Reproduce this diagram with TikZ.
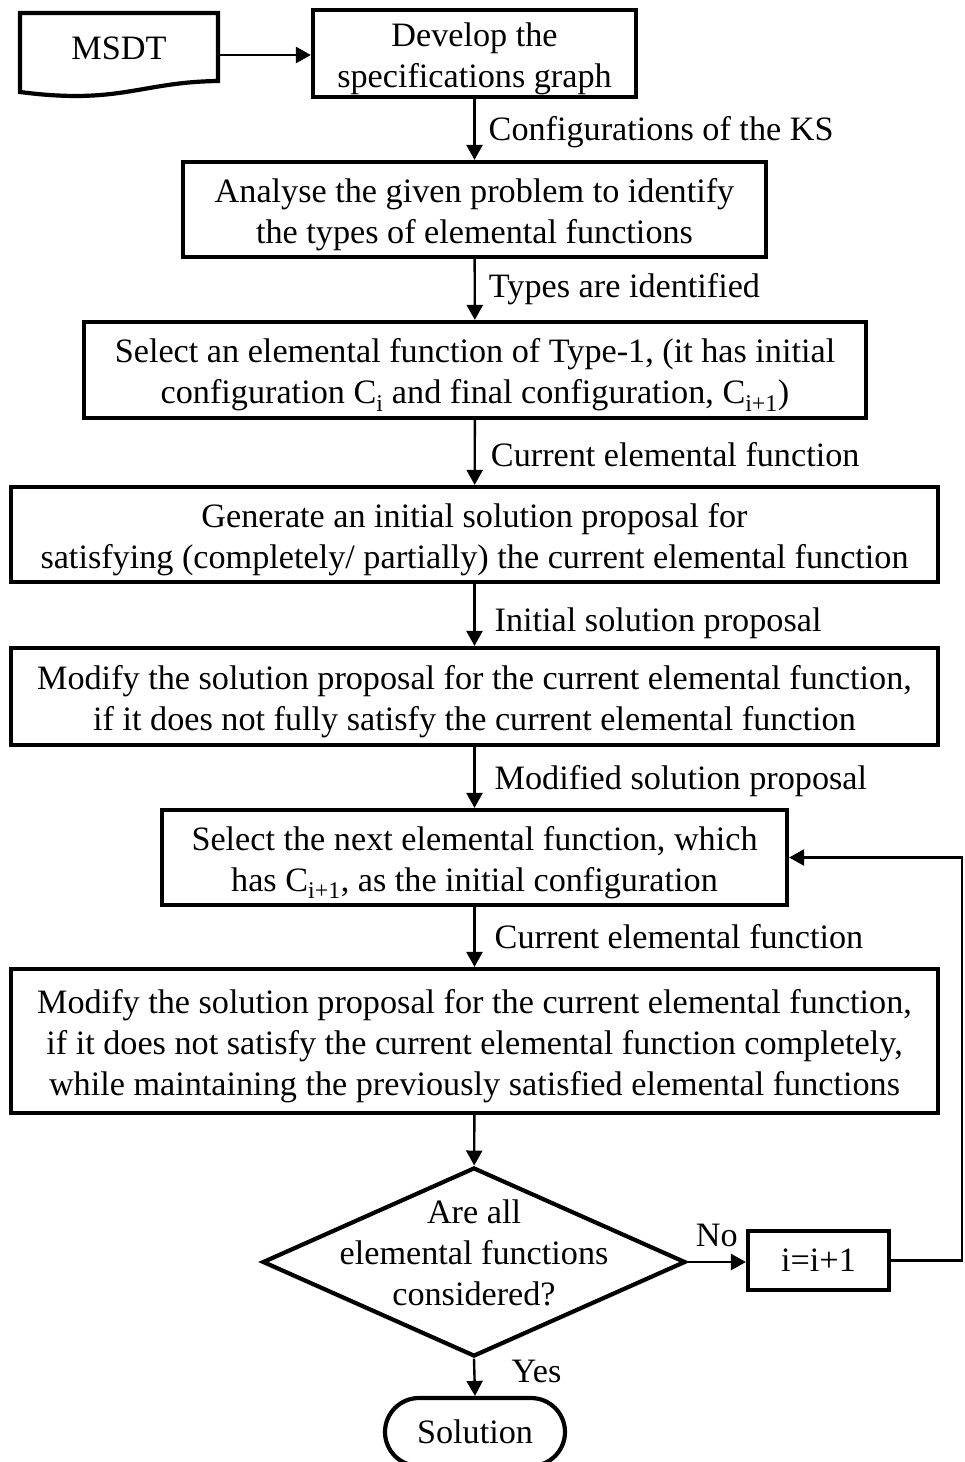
\documentclass[tikz,border=0pt]{standalone}
\usepackage{fontspec}
\setmainfont{Liberation Serif}
\usetikzlibrary{arrows.meta,shapes.geometric,shapes.misc}
\begin{document}
\begin{tikzpicture}[x=1pt,y=-1pt,
  txt/.style={font=\fontsize{34.2}{41}\selectfont, align=center},
  box/.style={draw, line width=4.2pt, rectangle, inner sep=0pt,
     label={[txt, yshift=-5pt]center:#1}},
  arr/.style={line width=2.4pt, -{Triangle[length=15pt,width=16pt]}},
  lab/.style={txt, anchor=west, inner sep=0pt, xshift=13pt}]
\useasboundingbox (0,0) rectangle (965,1462);
% MSDT document
\node[txt, minimum width=198pt, minimum height=70pt, inner sep=0pt] (m) at (119,48) {MSDT};
\draw[line width=4.2pt] (20,84) -- (20,13) -- (218,13) -- (218,81)
   .. controls (140,82) and (120,105) .. (20,92) -- cycle;
\node[box={Develop the\\specifications graph}, minimum width=323pt, minimum height=87pt] (b1) at (474.5,53.5) {};
\node[box={Analyse the given problem to identify\\the types of elemental functions}, minimum width=583pt, minimum height=95pt] (b2) at (474.5,209.5) {};
\node[box={Select an elemental function of Type-1, (it has initial\\configuration C\textsubscript{i} and final configuration, C\textsubscript{i+1})}, minimum width=782pt, minimum height=96pt] (b3) at (475,370) {};
\node[box={Generate an initial solution proposal for\\satisfying (completely/ partially) the current elemental function}, minimum width=927pt, minimum height=95pt] (b4) at (474.5,534.5) {};
\node[box={Modify the solution proposal for the current elemental function,\\if it does not fully satisfy the current elemental function}, minimum width=927pt, minimum height=97pt] (b5) at (474.5,696.5) {};
\node[box={Select the next elemental function, which\\has C\textsubscript{i+1}, as the initial configuration}, minimum width=625pt, minimum height=95pt] (b6) at (474.5,857.5) {};
\node[box={Modify the solution proposal for the current elemental function,\\if it does not satisfy the current elemental function completely,\\while maintaining the previously satisfied elemental functions}, minimum width=927pt, minimum height=144pt] (b7) at (474.5,1041) {};
\node[diamond, draw, line width=4.2pt, inner sep=0pt, minimum width=423pt, minimum height=189pt,
  label={[txt, yshift=9pt]center:Are all\\elemental functions\\considered?}] (d) at (474,1262) {};
\node[txt, draw, line width=4.2pt, rectangle, inner sep=0pt, minimum width=141pt, minimum height=59pt] (inc) at (818.5,1260.5) {i=i+1};
\node[txt, draw, line width=4.2pt, rounded rectangle, inner sep=0pt, minimum width=180pt, minimum height=68pt] (sol) at (475,1432) {Solution};
\coordinate (rt) at (962,1260.5);
% connectors
\draw[arr] (m.east |- 0,55) -- (b1.west |- 0,55);
\draw[arr] (b1) -- node[lab, yshift=-3pt] {Configurations of the KS} (b2);
\draw[arr] (b2) -- node[lab] {Types are identified} (b3);
\draw[arr] (b3) -- node[lab, xshift=2pt, yshift=-2pt] {Current elemental function} (b4);
\draw[arr] (b4) -- node[lab, xshift=6pt, yshift=-8pt] {Initial solution proposal} (b5);
\draw[arr] (b5) -- node[lab, xshift=6pt, yshift=-4pt] {Modified solution proposal} (b6);
\draw[arr] (b6) -- node[lab, xshift=6pt] {Current elemental function} (b7);
\draw[arr] (b7) -- (d);
\draw[arr] (d.east) -- node[txt, above, inner sep=4pt, yshift=10pt] {No} (inc.west |- d.east);
\draw[arr] (inc.east) -- (rt) |- (b6.east);
\draw[arr] (d.south) -- node[txt, right, inner sep=0pt, xshift=36pt, yshift=6pt] {Yes} (sol.north);
\end{tikzpicture}
\end{document}
